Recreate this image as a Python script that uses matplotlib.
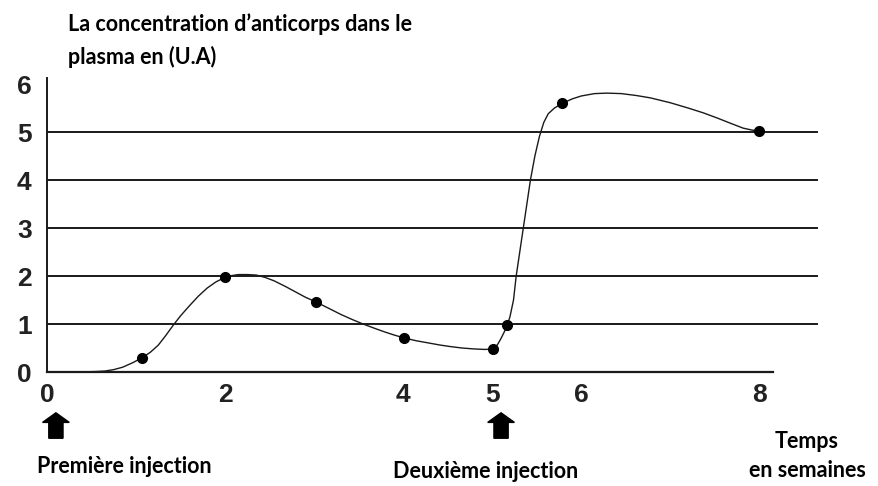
import matplotlib.pyplot as plt
from matplotlib.patches import FancyArrow

# values
weeks_pts = [1.07, 2.0, 3.02, 4.01, 5.01, 5.17, 5.79, 8.0]
conc_pts = [0.3, 1.97, 1.46, 0.71, 0.48, 0.98, 5.6, 5.02]

# trace of the hand-drawn curve, read along its path
curve_t = [0, 0.35, 0.55, 0.65, 0.75, 0.85, 0.97, 1.07, 1.16, 1.25, 1.33, 1.42,
           1.5, 1.6, 1.7, 1.8, 1.9, 2.0, 2.08, 2.15, 2.25, 2.35, 2.45, 2.55,
           2.68, 2.8, 2.9, 3.02, 3.15, 3.3, 3.42, 3.55, 3.68, 3.8, 3.9, 4.01,
           4.15, 4.3, 4.42, 4.53, 4.66, 4.8, 4.92, 5.01, 5.06, 5.1, 5.14, 5.17,
           5.2, 5.24, 5.27, 5.31, 5.35, 5.39, 5.43, 5.48, 5.53, 5.58, 5.63,
           5.7, 5.79, 5.9, 6.0, 6.15, 6.29, 6.45, 6.62, 6.78, 7.0, 7.2, 7.37,
           7.53, 7.68, 7.82, 7.92, 8.0]
curve_v = [0, 0, 0.01, 0.02, 0.05, 0.1, 0.2, 0.3, 0.41, 0.56, 0.75, 0.98,
           1.17, 1.38, 1.58, 1.75, 1.88, 1.97, 2.01, 2.03, 2.03, 2.02, 1.97, 1.9,
           1.78, 1.66, 1.56, 1.46, 1.34, 1.2, 1.1, 1.0, 0.91, 0.83, 0.77, 0.71,
           0.65, 0.6, 0.56, 0.53, 0.5, 0.48, 0.47, 0.48, 0.57, 0.7, 0.85, 0.98,
           1.15, 1.5, 2.0, 2.5, 3.0, 3.5, 4.0, 4.5, 4.9, 5.2, 5.38,
           5.5, 5.6, 5.69, 5.75, 5.8, 5.81, 5.8, 5.76, 5.71, 5.61, 5.5, 5.4,
           5.29, 5.18, 5.08, 5.04, 5.02]

x_ticks = [0, 2, 4, 5, 6, 8]
y_ticks = [0, 1, 2, 3, 4, 5, 6]
grid_levels = [1, 2, 3, 4, 5]
injections = [0, 5]

W, H = 879, 486
fig = plt.figure(figsize=(W / 100, H / 100), dpi=100)
ax = fig.add_axes([47 / W, (H - 372) / H, 771 / W, 294 / H])
ax.set_xlim(0, 8.66)
ax.set_ylim(0, 6.125)

ink = '#1a1a1a'
for lv in grid_levels:
    ax.axhline(lv, color=ink, lw=1.4, zorder=1)

ax.plot(curve_t, curve_v, color=ink, lw=1.0, solid_joinstyle='round', zorder=2)
ax.plot(weeks_pts, conc_pts, 'o', color='black', ms=7, zorder=3)

for s in ['top', 'right']:
    ax.spines[s].set_visible(False)
ax.spines['left'].set_color(ink)
ax.spines['bottom'].set_color(ink)
ax.spines['left'].set_linewidth(1.4)
ax.spines['bottom'].set_linewidth(1.6)
ax.spines['bottom'].set_bounds(0, 8.16)

num_font = dict(family='Liberation Sans', fontsize=19, fontweight='bold', color='#222222')
ax.set_xticks(x_ticks)
ax.set_xticklabels([str(t) for t in x_ticks], **num_font)
ax.set_yticks(y_ticks)
ax.set_yticklabels([str(t) for t in y_ticks], **num_font)
ax.tick_params(axis='x', length=0, pad=8)
ax.tick_params(axis='y', length=0, pad=11)

# injection arrows under the axis
for inj in injections:
    ax.add_patch(FancyArrow(inj + 0.1, -1.38, 0, 0.53, width=0.16, head_width=0.3,
                            head_length=0.2, length_includes_head=True,
                            color='black', clip_on=False))

txt = dict(family='Lato', fontweight='bold', fontsize=15.5, color='black')
fig.text(68 / W, 1 - 24 / H, "La concentration d\u2019anticorps dans le", ha='left', va='center', **txt)
fig.text(68 / W, 1 - 57 / H, "plasma en (U.A)", ha='left', va='center', **txt)
fig.text(37 / W, 1 - 466 / H, "Première injection", ha='left', va='center', **txt)
fig.text(393 / W, 1 - 471 / H, "Deuxième injection", ha='left', va='center', **txt)
fig.text(807 / W, 1 - 456 / H, "Temps\nen semaines", ha='center', va='center',
         linespacing=1.45, **txt)

fig.savefig('out.png', dpi=100)
